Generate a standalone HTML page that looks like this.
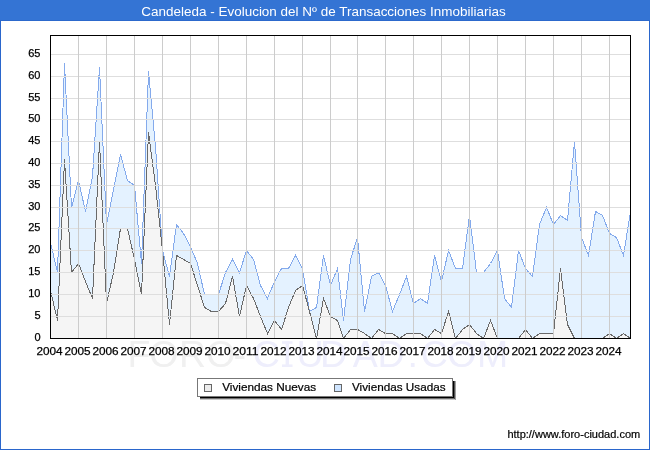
<!DOCTYPE html>
<html><head><meta charset="utf-8"><style>
html,body{margin:0;padding:0;background:#fff;overflow:hidden;}
svg{display:block;will-change:transform;font-family:"Liberation Sans",sans-serif;}
</style></head><body>
<svg width="650" height="450" viewBox="0 0 650 450">
<rect x="0" y="0" width="650" height="450" fill="#ffffff"/>
<rect x="0.5" y="0.5" width="649" height="449" fill="none" stroke="#2a66cc" stroke-width="1" shape-rendering="crispEdges"/>
<rect x="0" y="0" width="650" height="21" fill="#3474d4"/>
<line x1="0" y1="20.5" x2="650" y2="20.5" stroke="#2c69cc" stroke-width="1"/>
<text x="141.3" y="16" textLength="364.4" lengthAdjust="spacingAndGlyphs" fill="#ffffff" font-size="12.8">Candeleda - Evolucion del Nº de Transacciones Inmobiliarias</text>
<g font-size="37.5">
<text y="367" fill="#f0f0f0" x="127.4 149.25 178.9 206.25 233.4">FORO-</text>
<text y="367" fill="#eeeefc" x="252.85 296.6 319.9 352.7 377.4 407.6 420.65 447.25 476.9">CUDAD.COM</text>
<g fill="#eeeefc"><rect x="285.6" y="341.2" width="3.4" height="25.8"/><rect x="282" y="341.2" width="10.5" height="2.6"/><rect x="282" y="364.4" width="10.5" height="2.6"/></g>
</g>
<rect x="50" y="35" width="581" height="304" fill="#ffffff"/>
<polygon points="50.5,338.50 50.50,242.50 57.50,272.50 64.50,63.50 71.50,207.50 78.50,180.50 85.50,211.50 92.50,176.50 99.50,67.50 106.50,224.50 113.50,189.50 120.50,154.50 127.50,180.50 134.50,185.50 141.50,263.50 148.50,71.50 155.50,146.50 162.50,250.50 169.50,276.50 176.50,224.50 183.50,233.50 190.50,246.50 197.50,263.50 204.50,294.50 211.50,294.50 218.50,294.50 225.50,272.50 232.50,259.50 239.50,272.50 246.50,250.50 253.50,259.50 260.50,285.50 267.50,298.50 274.50,281.50 281.50,268.50 288.50,268.50 295.50,255.50 302.50,268.50 309.50,311.50 316.50,307.50 323.50,255.50 330.50,285.50 337.50,268.50 343.50,320.50 350.50,259.50 357.50,237.50 364.50,311.50 371.50,276.50 378.50,272.50 385.50,285.50 392.50,311.50 399.50,294.50 406.50,276.50 413.50,303.50 420.50,298.50 427.50,303.50 434.50,255.50 441.50,281.50 448.50,250.50 455.50,268.50 462.50,268.50 469.50,215.50 476.50,272.50 483.50,272.50 490.50,263.50 497.50,250.50 504.50,298.50 511.50,307.50 518.50,250.50 525.50,268.50 532.50,276.50 539.50,224.50 546.50,207.50 553.50,224.50 560.50,215.50 567.50,220.50 574.50,141.50 581.50,237.50 588.50,255.50 595.50,211.50 602.50,215.50 609.50,233.50 616.50,237.50 623.50,255.50 630.50,211.50 630.5,338.50" fill="#e4f2ff" stroke="none"/>
<polygon points="50.5,338.50 50.50,290.50 57.50,320.50 64.50,159.50 71.50,272.50 78.50,263.50 85.50,281.50 92.50,298.50 99.50,141.50 106.50,303.50 113.50,272.50 120.50,228.50 127.50,228.50 134.50,259.50 141.50,294.50 148.50,132.50 155.50,185.50 162.50,250.50 169.50,324.50 176.50,255.50 183.50,259.50 190.50,263.50 197.50,285.50 204.50,307.50 211.50,311.50 218.50,311.50 225.50,303.50 232.50,276.50 239.50,316.50 246.50,285.50 253.50,298.50 260.50,316.50 267.50,333.50 274.50,320.50 281.50,329.50 288.50,307.50 295.50,290.50 302.50,285.50 309.50,311.50 316.50,338.50 323.50,298.50 330.50,316.50 337.50,320.50 343.50,338.50 350.50,329.50 357.50,329.50 364.50,333.50 371.50,338.50 378.50,329.50 385.50,333.50 392.50,333.50 399.50,338.50 406.50,333.50 413.50,333.50 420.50,333.50 427.50,338.50 434.50,329.50 441.50,333.50 448.50,311.50 455.50,338.50 462.50,329.50 469.50,324.50 476.50,333.50 483.50,338.50 490.50,320.50 497.50,338.50 504.50,338.50 511.50,338.50 518.50,338.50 525.50,329.50 532.50,338.50 539.50,333.50 546.50,333.50 553.50,333.50 560.50,268.50 567.50,324.50 574.50,338.50 581.50,338.50 588.50,338.50 595.50,338.50 602.50,338.50 609.50,333.50 616.50,338.50 623.50,333.50 630.50,338.50 630.5,338.50" fill="#f5f5f5" stroke="none"/>
<polyline points="50.50,242.50 57.50,272.50 64.50,63.50 71.50,207.50 78.50,180.50 85.50,211.50 92.50,176.50 99.50,67.50 106.50,224.50 113.50,189.50 120.50,154.50 127.50,180.50 134.50,185.50 141.50,263.50 148.50,71.50 155.50,146.50 162.50,250.50 169.50,276.50 176.50,224.50 183.50,233.50 190.50,246.50 197.50,263.50 204.50,294.50 211.50,294.50 218.50,294.50 225.50,272.50 232.50,259.50 239.50,272.50 246.50,250.50 253.50,259.50 260.50,285.50 267.50,298.50 274.50,281.50 281.50,268.50 288.50,268.50 295.50,255.50 302.50,268.50 309.50,311.50 316.50,307.50 323.50,255.50 330.50,285.50 337.50,268.50 343.50,320.50 350.50,259.50 357.50,237.50 364.50,311.50 371.50,276.50 378.50,272.50 385.50,285.50 392.50,311.50 399.50,294.50 406.50,276.50 413.50,303.50 420.50,298.50 427.50,303.50 434.50,255.50 441.50,281.50 448.50,250.50 455.50,268.50 462.50,268.50 469.50,215.50 476.50,272.50 483.50,272.50 490.50,263.50 497.50,250.50 504.50,298.50 511.50,307.50 518.50,250.50 525.50,268.50 532.50,276.50 539.50,224.50 546.50,207.50 553.50,224.50 560.50,215.50 567.50,220.50 574.50,141.50 581.50,237.50 588.50,255.50 595.50,211.50 602.50,215.50 609.50,233.50 616.50,237.50 623.50,255.50 630.50,211.50" fill="none" stroke="#84aaec" stroke-width="1" shape-rendering="crispEdges"/>
<polyline points="50.50,290.50 57.50,320.50 64.50,159.50 71.50,272.50 78.50,263.50 85.50,281.50 92.50,298.50 99.50,141.50 106.50,303.50 113.50,272.50 120.50,228.50 127.50,228.50 134.50,259.50 141.50,294.50 148.50,132.50 155.50,185.50 162.50,250.50 169.50,324.50 176.50,255.50 183.50,259.50 190.50,263.50 197.50,285.50 204.50,307.50 211.50,311.50 218.50,311.50 225.50,303.50 232.50,276.50 239.50,316.50 246.50,285.50 253.50,298.50 260.50,316.50 267.50,333.50 274.50,320.50 281.50,329.50 288.50,307.50 295.50,290.50 302.50,285.50 309.50,311.50 316.50,338.50 323.50,298.50 330.50,316.50 337.50,320.50 343.50,338.50 350.50,329.50 357.50,329.50 364.50,333.50 371.50,338.50 378.50,329.50 385.50,333.50 392.50,333.50 399.50,338.50 406.50,333.50 413.50,333.50 420.50,333.50 427.50,338.50 434.50,329.50 441.50,333.50 448.50,311.50 455.50,338.50 462.50,329.50 469.50,324.50 476.50,333.50 483.50,338.50 490.50,320.50 497.50,338.50 504.50,338.50 511.50,338.50 518.50,338.50 525.50,329.50 532.50,338.50 539.50,333.50 546.50,333.50 553.50,333.50 560.50,268.50 567.50,324.50 574.50,338.50 581.50,338.50 588.50,338.50 595.50,338.50 602.50,338.50 609.50,333.50 616.50,338.50 623.50,333.50 630.50,338.50" fill="none" stroke="#6a6a6a" stroke-width="1" shape-rendering="crispEdges"/>
<g stroke="#dedede" stroke-width="1" shape-rendering="crispEdges"><line x1="51" y1="316.5" x2="630" y2="316.5"/><line x1="51" y1="294.5" x2="630" y2="294.5"/><line x1="51" y1="272.5" x2="630" y2="272.5"/><line x1="51" y1="250.5" x2="630" y2="250.5"/><line x1="51" y1="228.5" x2="630" y2="228.5"/><line x1="51" y1="207.5" x2="630" y2="207.5"/><line x1="51" y1="185.5" x2="630" y2="185.5"/><line x1="51" y1="163.5" x2="630" y2="163.5"/><line x1="51" y1="141.5" x2="630" y2="141.5"/><line x1="51" y1="119.5" x2="630" y2="119.5"/><line x1="51" y1="98.5" x2="630" y2="98.5"/><line x1="51" y1="76.5" x2="630" y2="76.5"/><line x1="51" y1="54.5" x2="630" y2="54.5"/></g>
<g stroke="#cccccc" stroke-width="1" shape-rendering="crispEdges"><line x1="78.5" y1="36" x2="78.5" y2="338"/><line x1="106.5" y1="36" x2="106.5" y2="338"/><line x1="134.5" y1="36" x2="134.5" y2="338"/><line x1="162.5" y1="36" x2="162.5" y2="338"/><line x1="190.5" y1="36" x2="190.5" y2="338"/><line x1="218.5" y1="36" x2="218.5" y2="338"/><line x1="246.5" y1="36" x2="246.5" y2="338"/><line x1="274.5" y1="36" x2="274.5" y2="338"/><line x1="302.5" y1="36" x2="302.5" y2="338"/><line x1="330.5" y1="36" x2="330.5" y2="338"/><line x1="357.5" y1="36" x2="357.5" y2="338"/><line x1="385.5" y1="36" x2="385.5" y2="338"/><line x1="413.5" y1="36" x2="413.5" y2="338"/><line x1="441.5" y1="36" x2="441.5" y2="338"/><line x1="469.5" y1="36" x2="469.5" y2="338"/><line x1="497.5" y1="36" x2="497.5" y2="338"/><line x1="525.5" y1="36" x2="525.5" y2="338"/><line x1="553.5" y1="36" x2="553.5" y2="338"/><line x1="581.5" y1="36" x2="581.5" y2="338"/><line x1="609.5" y1="36" x2="609.5" y2="338"/></g>
<rect x="50.5" y="35.5" width="580" height="303" fill="none" stroke="#000" stroke-width="1" shape-rendering="crispEdges"/>
<g font-size="11" fill="#000" stroke="#000" stroke-width="0.25"><text x="40.5" y="341.10" text-anchor="end">0</text><text x="40.5" y="319.10" text-anchor="end">5</text><text x="40.5" y="297.10" text-anchor="end">10</text><text x="40.5" y="275.10" text-anchor="end">15</text><text x="40.5" y="253.10" text-anchor="end">20</text><text x="40.5" y="231.10" text-anchor="end">25</text><text x="40.5" y="210.10" text-anchor="end">30</text><text x="40.5" y="188.10" text-anchor="end">35</text><text x="40.5" y="166.10" text-anchor="end">40</text><text x="40.5" y="144.10" text-anchor="end">45</text><text x="40.5" y="122.10" text-anchor="end">50</text><text x="40.5" y="101.10" text-anchor="end">55</text><text x="40.5" y="79.10" text-anchor="end">60</text><text x="40.5" y="57.10" text-anchor="end">65</text></g>
<g font-size="11.5" fill="#000" stroke="#000" stroke-width="0.25"><text x="36.40" y="355" textLength="26.2" lengthAdjust="spacingAndGlyphs">2004</text><text x="64.40" y="355" textLength="26.2" lengthAdjust="spacingAndGlyphs">2005</text><text x="92.40" y="355" textLength="26.2" lengthAdjust="spacingAndGlyphs">2006</text><text x="120.40" y="355" textLength="26.2" lengthAdjust="spacingAndGlyphs">2007</text><text x="148.40" y="355" textLength="26.2" lengthAdjust="spacingAndGlyphs">2008</text><text x="176.40" y="355" textLength="26.2" lengthAdjust="spacingAndGlyphs">2009</text><text x="204.40" y="355" textLength="26.2" lengthAdjust="spacingAndGlyphs">2010</text><text x="232.40" y="355" textLength="26.2" lengthAdjust="spacingAndGlyphs">2011</text><text x="260.40" y="355" textLength="26.2" lengthAdjust="spacingAndGlyphs">2012</text><text x="288.40" y="355" textLength="26.2" lengthAdjust="spacingAndGlyphs">2013</text><text x="316.40" y="355" textLength="26.2" lengthAdjust="spacingAndGlyphs">2014</text><text x="343.40" y="355" textLength="26.2" lengthAdjust="spacingAndGlyphs">2015</text><text x="371.40" y="355" textLength="26.2" lengthAdjust="spacingAndGlyphs">2016</text><text x="399.40" y="355" textLength="26.2" lengthAdjust="spacingAndGlyphs">2017</text><text x="427.40" y="355" textLength="26.2" lengthAdjust="spacingAndGlyphs">2018</text><text x="455.40" y="355" textLength="26.2" lengthAdjust="spacingAndGlyphs">2019</text><text x="483.40" y="355" textLength="26.2" lengthAdjust="spacingAndGlyphs">2020</text><text x="511.40" y="355" textLength="26.2" lengthAdjust="spacingAndGlyphs">2021</text><text x="539.40" y="355" textLength="26.2" lengthAdjust="spacingAndGlyphs">2022</text><text x="567.40" y="355" textLength="26.2" lengthAdjust="spacingAndGlyphs">2023</text><text x="595.40" y="355" textLength="26.2" lengthAdjust="spacingAndGlyphs">2024</text></g>
<g shape-rendering="crispEdges">
<rect x="200" y="399" width="256" height="1" fill="#c8c8c8"/>
<rect x="455" y="381" width="1" height="19" fill="#a0a0a0"/>
<rect x="200" y="398" width="255" height="1" fill="#707070"/>
<rect x="454" y="381" width="1" height="18" fill="#505050"/>
<rect x="200" y="381" width="254" height="17" fill="#000"/>
</g>
<rect x="197.5" y="378.5" width="255" height="18" fill="#fff" stroke="#777" stroke-width="1" shape-rendering="crispEdges"/>
<rect x="204.5" y="384.5" width="7" height="7" fill="#ececec" stroke="#666" stroke-width="1" shape-rendering="crispEdges"/>
<text x="222.2" y="391" font-size="11.5" textLength="94" lengthAdjust="spacingAndGlyphs" fill="#000" stroke="#000" stroke-width="0.2">Viviendas Nuevas</text>
<rect x="334.5" y="384.5" width="7" height="7" fill="#cfe5ff" stroke="#666" stroke-width="1" shape-rendering="crispEdges"/>
<text x="352" y="391" font-size="11.5" textLength="93.6" lengthAdjust="spacingAndGlyphs" fill="#000" stroke="#000" stroke-width="0.2">Viviendas Usadas</text>
<text x="507.4" y="437.5" font-size="11" textLength="132.8" lengthAdjust="spacingAndGlyphs" fill="#000" stroke="#000" stroke-width="0.2">http://www.foro-ciudad.com</text>
</svg>
</body></html>
